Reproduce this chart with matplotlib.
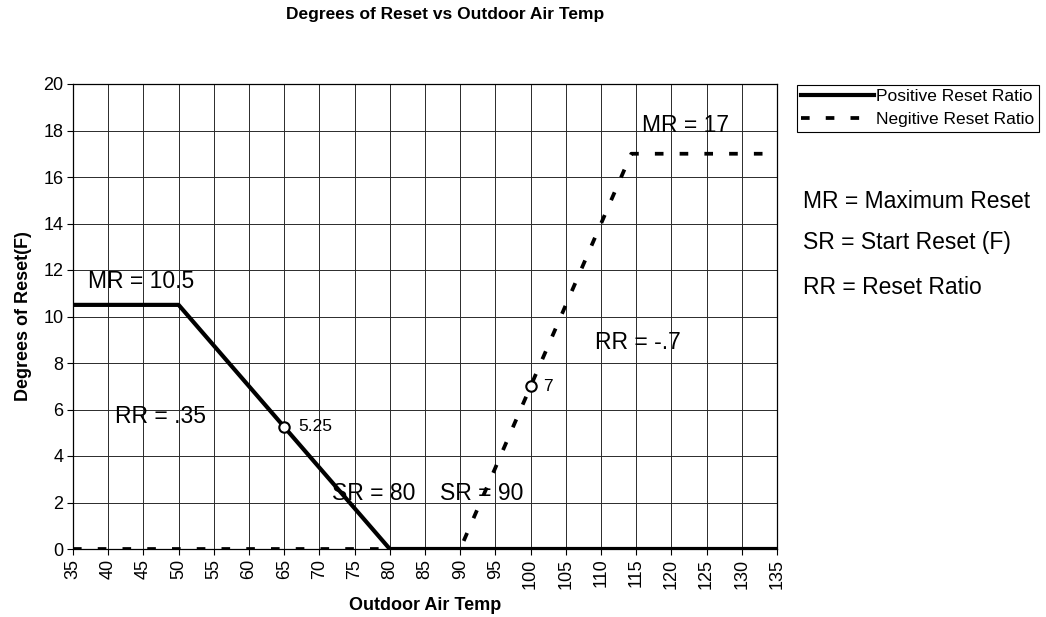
import matplotlib
matplotlib.use("Agg")
import matplotlib.pyplot as plt
from matplotlib.lines import Line2D

plt.rcParams['font.family'] = ['Liberation Sans', 'DejaVu Sans']

# Outdoor air temperature (F) break points and degrees of reset
pos_temp = [35, 50, 80, 135]
pos_reset = [10.5, 10.5, 0, 0]
neg_temp = [35, 90, 114.3, 135]
neg_reset = [0, 0, 17, 17]

# Marked sample points
pos_pt_temp, pos_pt_reset = 65, 5.25
neg_pt_temp, neg_pt_reset = 100, 7

x_ticks = list(range(35, 136, 5))
y_ticks = list(range(0, 21, 2))

DASH = (0, (2.3, 4.3))

fig = plt.figure(figsize=(10.46, 6.17), dpi=100)
ax = fig.add_axes([73 / 1046, 1 - 549 / 617, (777 - 73) / 1046, (549 - 84) / 617])

ax.plot(neg_temp, neg_reset, color='black', lw=2.7, linestyle=DASH,
        dash_capstyle='butt', label='Negitive Reset Ratio', zorder=3)
ax.plot(pos_temp, pos_reset, color='black', lw=3.0, solid_capstyle='butt',
        label='Positive Reset Ratio', zorder=4)

ax.plot([pos_pt_temp], [pos_pt_reset], 'o', ms=7.5, mfc='white', mec='black', mew=1.5, zorder=5)
ax.plot([neg_pt_temp], [neg_pt_reset], 'o', ms=7.5, mfc='white', mec='black', mew=1.5, zorder=5)

ax.set_xlim(35, 135)
ax.set_ylim(0, 20)
ax.set_xticks(x_ticks)
ax.set_yticks(y_ticks)
ax.set_xticklabels([str(t) for t in x_ticks], rotation=90, fontsize=13)
ax.set_yticklabels([str(t) for t in y_ticks], fontsize=13)
ax.tick_params(direction='out', length=4, width=0.8, color='black', pad=3)
ax.grid(True, color='#2a2a2a', lw=0.7)
ax.set_axisbelow(True)
for s in ax.spines.values():
    s.set_color('black')
    s.set_linewidth(0.9)

ax.set_xlabel('Outdoor Air Temp', fontsize=13, fontweight='bold', labelpad=6)
ax.set_ylabel('Degrees of Reset(F)', fontsize=13, fontweight='bold', labelpad=8)

fig.text(445 / 1046, 1 - 15 / 617, 'Degrees of Reset vs Outdoor Air Temp',
         ha='center', va='center', fontsize=12.5, fontweight='bold')

# Annotations inside the plot
ann = dict(fontsize=16.5, ha='left', va='center', color='black', zorder=6)
ax.text(37.1, 11.5, 'MR = 10.5', **ann)
ax.text(41.0, 5.7, 'RR = .35', **ann)
ax.text(71.8, 2.4, 'SR = 80', **ann)
ax.text(87.1, 2.4, 'SR = 90', **ann)
ax.text(109.1, 8.9, 'RR = -.7', **ann)
ax.text(115.8, 18.2, 'MR = 17', **ann)
ax.text(pos_pt_temp + 2.0, pos_pt_reset, '5.25', fontsize=12.5, ha='left', va='center')
ax.text(neg_pt_temp + 1.8, neg_pt_reset, '7', fontsize=12.5, ha='left', va='center')

# Legend
leg = ax.legend(handles=[Line2D([], [], color='black', lw=3.0),
                         Line2D([], [], color='black', lw=2.7, linestyle=DASH)],
                labels=['Positive Reset Ratio', 'Negitive Reset Ratio'],
                loc='upper left', bbox_to_anchor=(797 / 1046, 1 - 85 / 617),
                bbox_transform=fig.transFigure, fontsize=12.5, frameon=True,
                fancybox=False, edgecolor='black', framealpha=1, borderpad=0.25,
                handlelength=4.2, handletextpad=0.1, labelspacing=0.45, borderaxespad=0)
leg.get_frame().set_linewidth(0.8)

# Key to the abbreviations
side = dict(fontsize=16.5, ha='left', va='center')
fig.text(803 / 1046, 1 - 202 / 617, 'MR = Maximum Reset', **side)
fig.text(803 / 1046, 1 - 243 / 617, 'SR = Start Reset (F)', **side)
fig.text(803 / 1046, 1 - 288 / 617, 'RR = Reset Ratio', **side)

fig.savefig('out.png', dpi=100)
